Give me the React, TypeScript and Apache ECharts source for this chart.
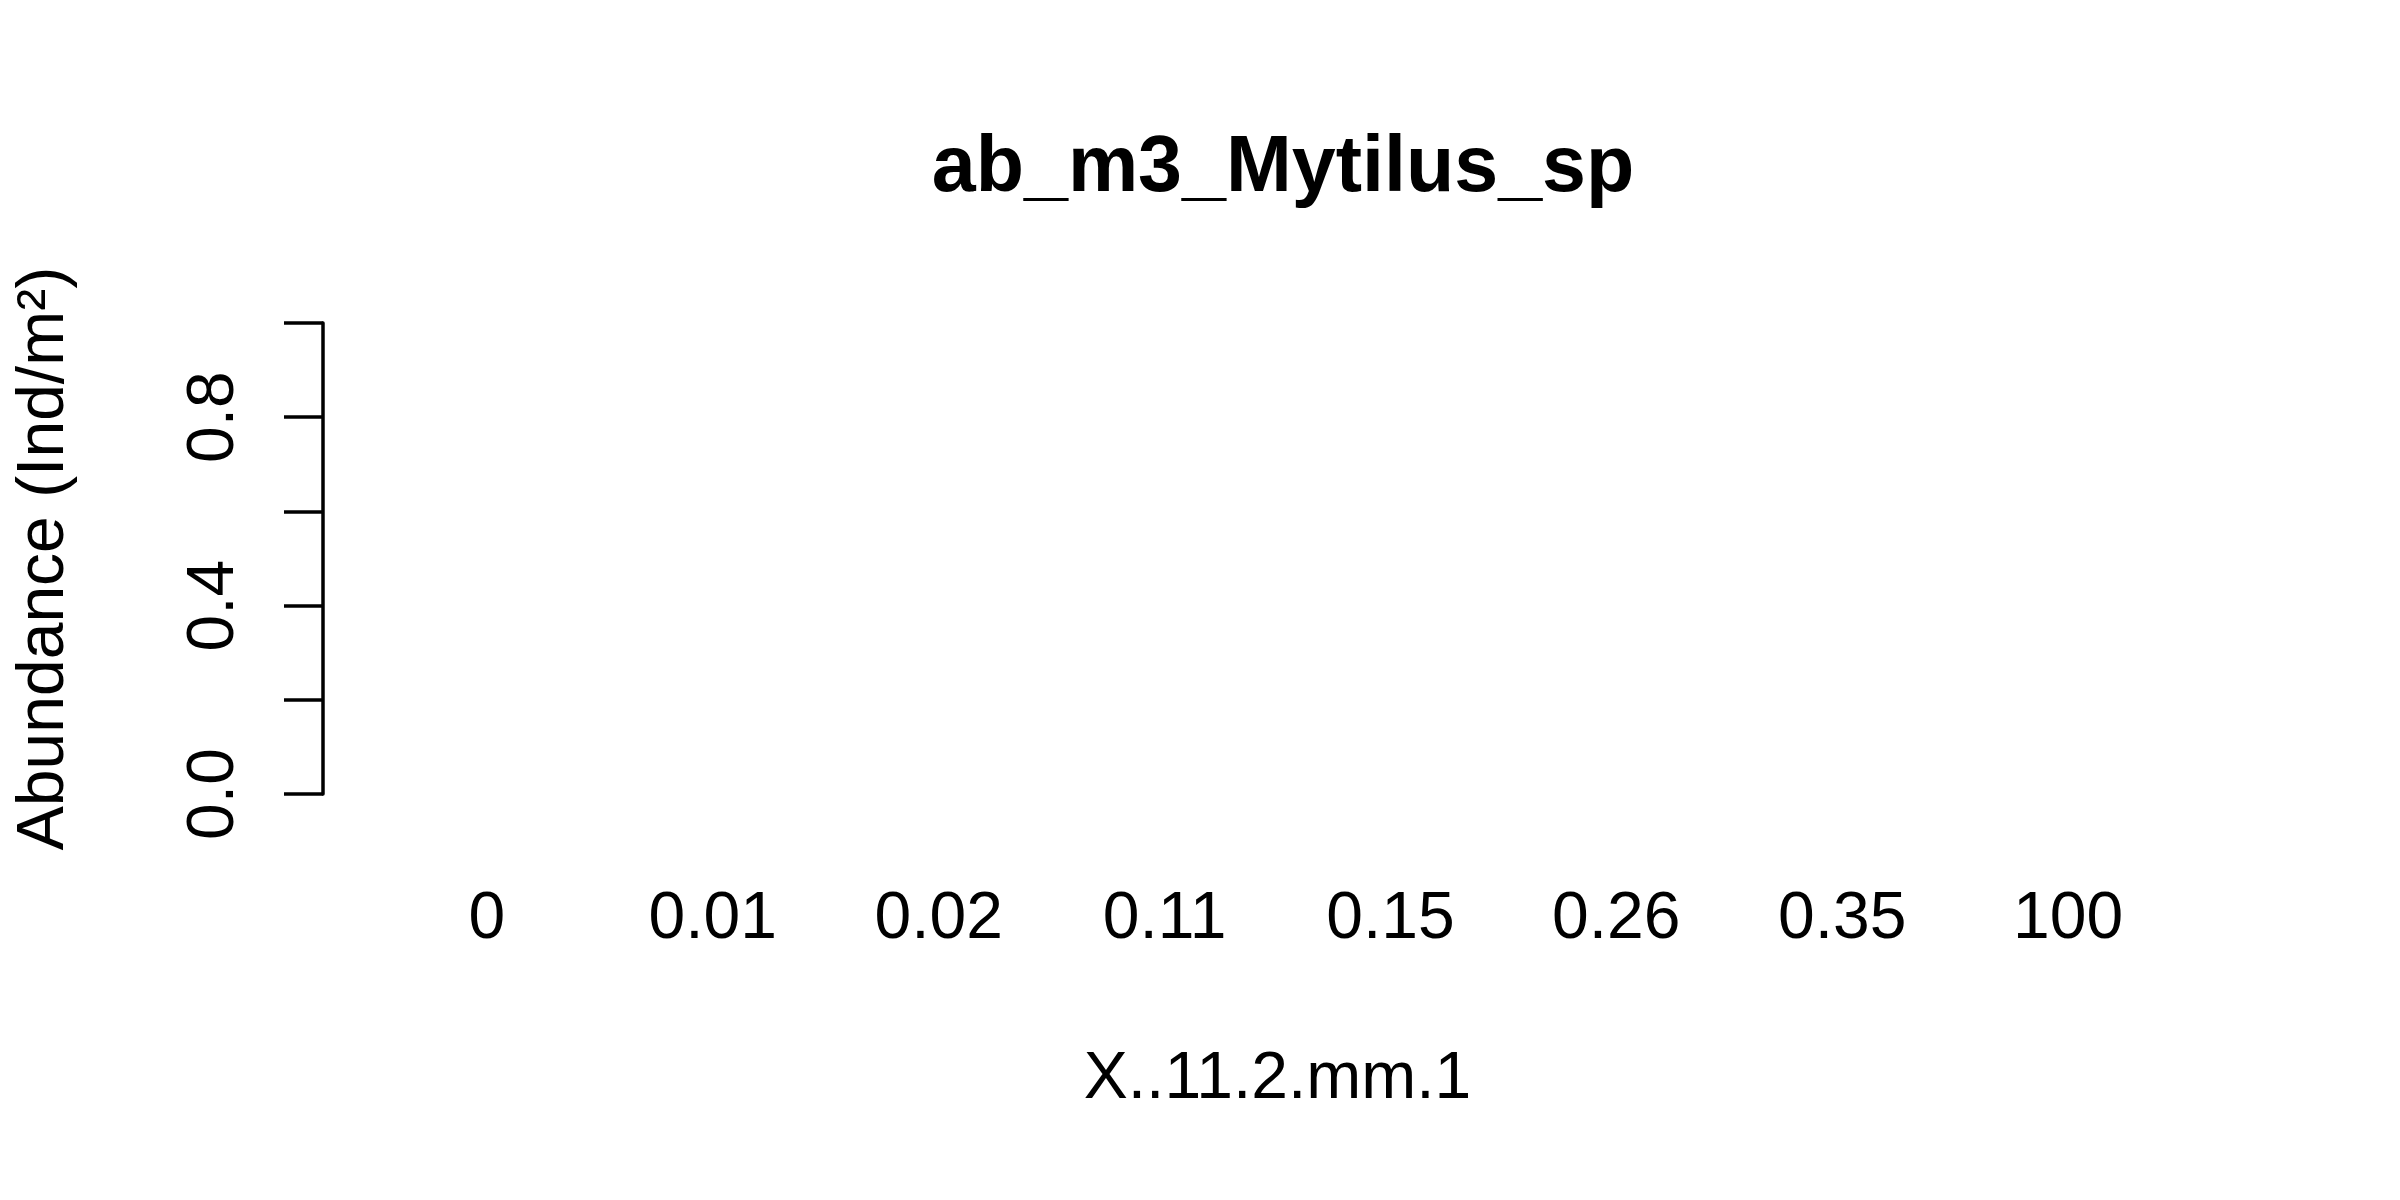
import React, { useEffect, useRef } from "react";
import * as echarts from "echarts";

const chartTitle = "ab_m3_Mytilus_sp";
const xAxisTitle = "X..11.2.mm.1";
const yAxisTitle = "Abundance (Ind/m²)";
const categories = ["0", "0.01", "0.02", "0.11", "0.15", "0.26", "0.35", "100"];
const abundance = [0, 0, 0, 0, 0, 0, 0, 0];
const yLabelled = [0, 0.4, 0.8];

const FONT = "Liberation Sans, Arial, sans-serif";

export default function App() {
  const ref = useRef<HTMLDivElement>(null);
  useEffect(() => {
    document.body.style.margin = "0";
    const chart = echarts.init(ref.current!, null, { renderer: "svg" });
    chart.setOption({
      animation: false,
      backgroundColor: "#ffffff",
      title: {
        text: chartTitle,
        left: 1278,
        top: 119,
        textAlign: "center",
        textStyle: { fontFamily: FONT, fontSize: 79, fontWeight: "bold", color: "#000" },
      },
      grid: {
        left: 374,
        right: 219,
        top: 323,
        bottom: 406,
        containLabel: false,
        outerBoundsMode: "none",
      },
      xAxis: {
        type: "category",
        data: categories,
        axisLine: { show: false },
        axisTick: { show: false },
        axisLabel: { fontFamily: FONT, fontSize: 66, color: "#000", margin: 88, interval: 0 },
        name: xAxisTitle,
        nameLocation: "middle",
        nameGap: 248,
        nameTextStyle: { fontFamily: FONT, fontSize: 66, color: "#000" },
      },
      yAxis: {
        type: "value",
        min: 0,
        max: 1,
        interval: 0.2,
        offset: 51,
        splitLine: { show: false },
        axisLine: { show: true, lineStyle: { color: "#000", width: 3.5 } },
        axisTick: { show: true, length: 39, lineStyle: { color: "#000", width: 3.5 } },
        axisLabel: {
          fontFamily: FONT,
          fontSize: 66,
          color: "#000",
          rotate: 90,
          margin: 80,
          formatter: (v: number) =>
            yLabelled.some((l) => Math.abs(l - v) < 1e-9) ? v.toFixed(1) : "",
        },
        name: yAxisTitle,
        nameLocation: "middle",
        nameRotate: 90,
        nameGap: 250,
        nameTextStyle: { fontFamily: FONT, fontSize: 66, color: "#000" },
      },
      series: [
        {
          type: "bar",
          data: abundance,
          barWidth: "83%",
          itemStyle: { color: "#bebebe", borderWidth: 0 },
        },
      ],
    });
    return () => chart.dispose();
  }, []);
  return (
    <div
      ref={ref}
      style={{ position: "absolute", left: 0, top: 0, width: 2400, height: 1200 }}
    />
  );
}
